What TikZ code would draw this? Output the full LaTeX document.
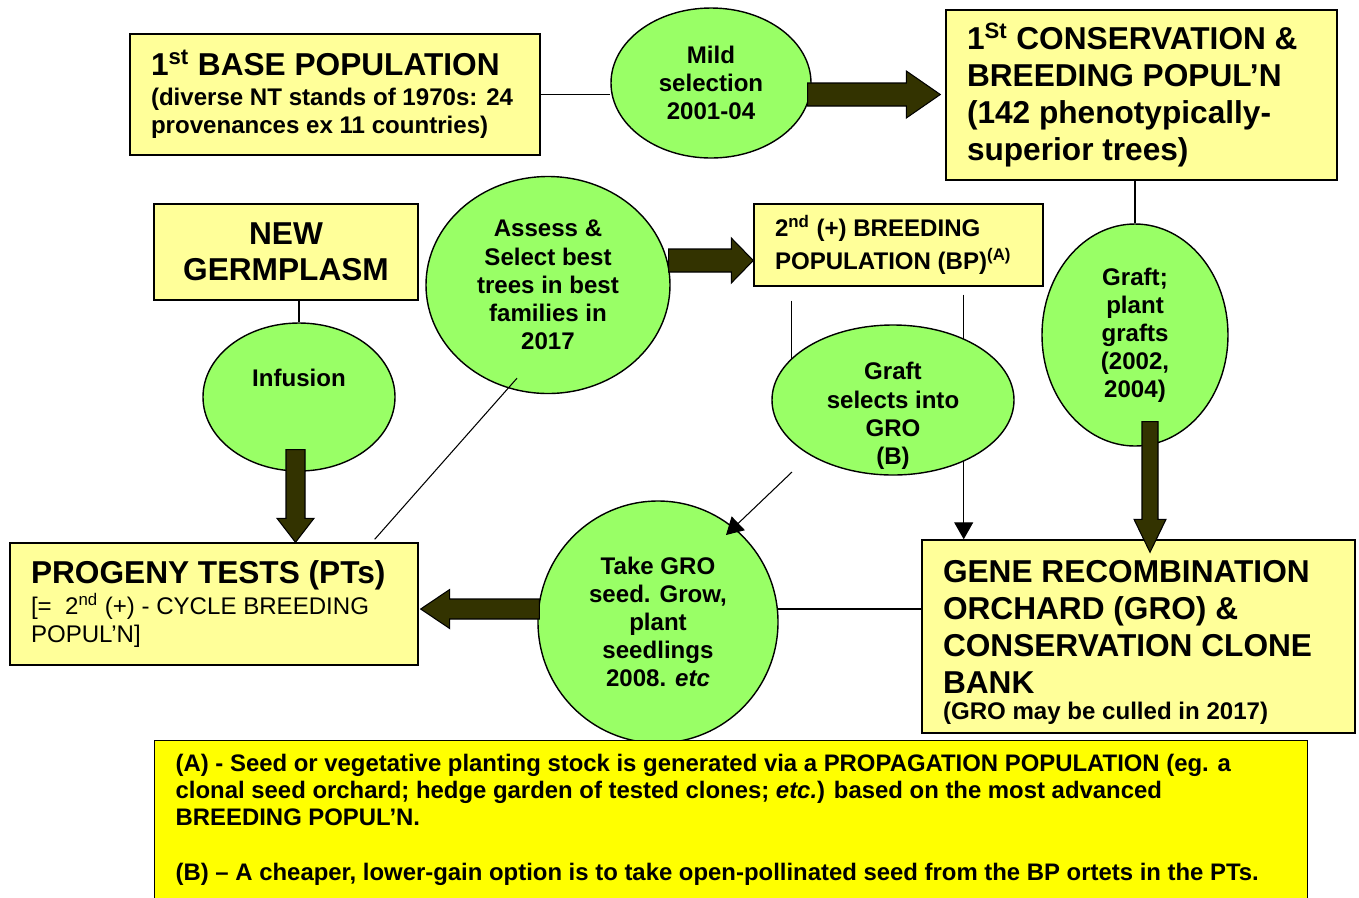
\documentclass[tikz,border=0pt]{standalone}
\usepackage{fontspec}
\setmainfont{Liberation Sans}
\usepackage{xcolor}
\usetikzlibrary{shapes.geometric, arrows.meta, calc, backgrounds}
\definecolor{boxcolor}{RGB}{255, 255, 153}
\definecolor{stepcolor}{RGB}{153, 255, 102}
\definecolor{notecolor}{RGB}{255, 255, 0}
\definecolor{flowcolor}{RGB}{51, 51, 0}
\newcommand{\bigtxt}{\fontsize{18}{21}\selectfont\bfseries}
\newcommand{\smalltxt}{\fontsize{13.7}{16}\selectfont\bfseries}
% fat block arrow: start, end, half shaft, half head, head length
\newcommand{\fatarrow}[5]{%
  \path let \p1=(#1), \p2=(#2) in
    \pgfextra{%
      \pgfmathsetmacro{\fatangle}{atan2(\y2-\y1,\x2-\x1)}%
      \pgfmathsetmacro{\fatlength}{veclen(\x2-\x1,\y2-\y1)}%
      \global\let\fatangle\fatangle
      \global\let\fatlength\fatlength};
  \draw[fatarrow, shift={(#1)}, rotate=\fatangle]
    (0pt,-#3) -- ({\fatlength pt-#5},-#3) -- ({\fatlength pt-#5},-#4)
    -- (\fatlength pt,0pt) -- ({\fatlength pt-#5},#4)
    -- ({\fatlength pt-#5},#3) -- (0pt,#3) -- cycle;
}

\begin{document}
\begin{tikzpicture}[
    popbox/.style={draw, fill=boxcolor, line width=0.8pt, align=flush left, inner xsep=0.42cm, inner ysep=0pt},
    stepoval/.style={ellipse, draw, fill=stepcolor, line width=0.8pt, align=center, inner sep=0pt, font=\smalltxt},
    link/.style={line width=0.6pt},
    linkarrow/.style={line width=0.6pt, -{Triangle[length=0.34cm, width=0.38cm]}},
    fatarrow/.style={draw=black, fill=flowcolor, line width=0.6pt}
]
\useasboundingbox (0,0) rectangle (27.18,-17.94);

% Populations
\node[popbox, text width=7.36cm, minimum height=2.42cm, font=\smalltxt] (base) at (6.70,-1.89)
  {{\bigtxt 1\textsuperscript{st} BASE POPULATION}\\[1pt] (diverse NT stands of 1970s: 24\\provenances ex 11 countries)};
\node[popbox, text width=6.98cm, minimum height=3.4cm, font=\bigtxt] (cons) at (22.83,-1.90)
  {1\textsuperscript{St} CONSERVATION \&\\BREEDING POPUL’N\\(142 phenotypically-\\superior trees)};
\node[popbox, align=center, text width=4.44cm, minimum height=1.92cm, font=\fontsize{18}{20.5}\selectfont\bfseries] (newg) at (5.72,-5.04)
  {NEW\\GERMPLASM};
\node[popbox, text width=4.94cm, minimum height=1.64cm, font=\fontsize{13.7}{18.8}\selectfont\bfseries] (bp) at (17.97,-4.90)
  {2\textsuperscript{nd} (+) BREEDING\\POPULATION (BP)\textsuperscript{(A)}};
\node[popbox, text width=7.32cm, minimum height=2.44cm, font=\smalltxt] (pt) at (4.28,-12.08)
  {{\bigtxt PROGENY TESTS (PTs)}\\[2pt] {\mdseries [=\ \ 2\textsuperscript{nd} (+) - CYCLE BREEDING\\POPUL’N]}};
\node[popbox, text width=7.82cm, minimum height=3.86cm, font=\bigtxt] (gro) at (22.77,-12.73)
  {\rule{0pt}{19.5pt}GENE RECOMBINATION\\ORCHARD (GRO) \&\\CONSERVATION CLONE\\BANK\\[-6pt]{\smalltxt (GRO may be culled in 2017)}};

% Steps
\node[stepoval, minimum width=4.0cm, minimum height=3.0cm] (mild) at (14.22,-1.66) {Mild\\selection\\2001-04};
\node[stepoval, minimum width=4.88cm, minimum height=4.34cm] (assess) at (10.96,-5.70)
  {Assess \&\\Select best\\trees in best\\families in\\2017};
\node[stepoval, minimum width=3.84cm, minimum height=2.96cm] (infusion) at (5.98,-7.94) {Infusion\\[5.6pt]\mbox{}};
\node[stepoval, minimum width=4.84cm, minimum height=3.0cm, inner ysep=-0.8cm] (graftsel) at (17.86,-8.0)
  {\mbox{}\\[12pt]Graft\\selects into\\GRO\\(B)};
\node[stepoval, minimum width=3.72cm, minimum height=4.44cm] (graft) at (22.7,-6.70)
  {Graft;\\plant\\grafts\\(2002,\\2004)};
\node[stepoval, minimum width=4.8cm, minimum height=4.84cm] (take) at (13.16,-12.44)
  {Take GRO\\seed. Grow,\\plant\\seedlings\\2008. \textit{etc}};

% Footnote
\node[popbox, fill=notecolor, anchor=north west, text width=22.22cm, inner ysep=0.26cm,
      font=\fontsize{13.6}{15.6}\selectfont\bfseries] (note) at (3.08,-14.80)
  {(A) - Seed or vegetative planting stock is generated via a PROPAGATION POPULATION (eg. a\\
   clonal seed orchard; hedge garden of tested clones; \textit{etc.}) based on the most advanced\\
   BREEDING POPUL’N.\\[15.6pt]
   (B) – A cheaper, lower-gain option is to take open-pollinated seed from the BP ortets in the PTs.};

% Thin connectors
\begin{scope}[on background layer]
\draw[link] (base.east) -- (base.east -| mild.west);
\draw[link] (graft.north |- cons.south) -- (graft.north);
\draw[link] (infusion.north |- newg.south) -- (infusion.north);
\draw[link] ($(bp.south west)+(0.76,-0.28)$) coordinate (bpl) -- (bpl |- graftsel.center);
\draw[linkarrow] ($(bp.south east)+(-1.6,-0.16)$) coordinate (bpr) -- (bpr |- gro.north);
\draw[link] ($(take.center)+(0,0.26)$) coordinate (tk) -- (tk -| gro.west);
\end{scope}
\draw[link] ($(pt.north east)+(-0.88,0.06)$) -- ($(assess.south)+(-0.62,0.32)$);
\draw[linkarrow] ($(graftsel.center)+(-2.02,-1.44)$) -- ($(take.center)+(1.36,1.74)$);

% Block arrows
\fatarrow{$(mild.east |- base.east)+(-0.08,0)$}{$(cons.west |- base.east)+(-0.1,0)$}{0.23cm}{0.47cm}{0.68cm}
\fatarrow{$(assess.east)+(-0.04,0.49)$}{$(bp.west)+(0,-0.31)$}{0.23cm}{0.45cm}{0.44cm}
\fatarrow{$(infusion.south)+(-0.07,0.44)$}{$(pt.north)+(1.63,0)$}{0.19cm}{0.37cm}{0.48cm}
\fatarrow{$(take.west)+(0.04,0.26)$}{$(pt.east)+(0.04,-0.1)$}{0.2cm}{0.39cm}{0.58cm}
\fatarrow{$(graft.south)+(0.3,0.5)$}{$(gro.north)+(0.23,-0.26)$}{0.16cm}{0.32cm}{0.66cm}

\end{tikzpicture}
\end{document}
